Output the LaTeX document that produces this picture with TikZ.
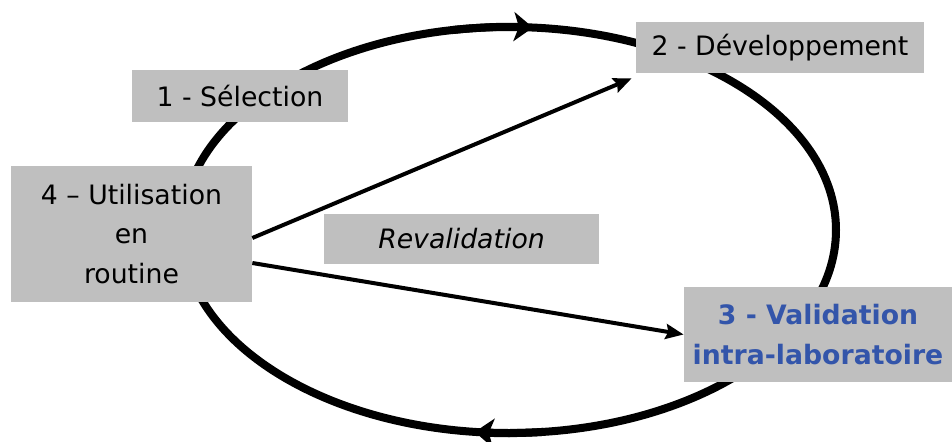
\documentclass[tikz,border=0pt]{standalone}
\usepackage{fontspec}
\setmainfont{DejaVu Sans}
\usetikzlibrary{arrows.meta}
\definecolor{grisboite}{RGB}{191,191,191}
\definecolor{bleuval}{RGB}{51,85,170}
\begin{document}
\begin{tikzpicture}[
            etape/.style={fill=grisboite,inner sep=0pt,align=center,
                font=\fontsize{15.2}{22.7}\selectfont},
            fleche/.style={line width=.08cm,
                -{Stealth[length=.36cm,width=.3cm,inset=.05cm]}}]
            \useasboundingbox (0,0) rectangle (19.04,8.82);
            \coordinate (O) at (10.18,4.22); % centre du cycle
            \draw[line width=.16cm] (O) ellipse[x radius=6.54,y radius=4.06];
            \begin{scope}[line width=.16cm,
                -{Stealth[length=.38cm,width=.58cm,inset=.1cm]}]
                \draw ([shift={(100:6.54 and 4.06)}]O)
                arc[start angle=100,end angle=85.8,x radius=6.54,y radius=4.06];
                \draw ([shift={(276:6.54 and 4.06)}]O)
                arc[start angle=276,end angle=264,x radius=6.54,y radius=4.06];
            \end{scope}
            \path
            (4.80,6.90) node[etape,minimum width=4.32cm,minimum height=1.04cm]
            (sel) {1 - Sélection} % <<< étape 1
            (15.60,7.87) node[etape,minimum width=5.76cm,minimum height=1.02cm]
            (dev) {2 - Développement} % <<< étape 2
            (16.36,2.13) node[etape,minimum width=5.36cm,minimum height=1.9cm,
            text=bleuval,font=\fontsize{15.2}{22.7}\selectfont\bfseries]
            (val) {3 - Validation\\intra-laboratoire} % <<< étape 3
            (2.63,4.14) node[etape,minimum width=4.82cm,minimum height=2.72cm]
            (util) {4 – Utilisation\\en\\routine} % <<< étape 4
            (9.23,4.04) node[etape,minimum width=5.5cm,minimum height=1cm]
            (reval) {\itshape Revalidation};
            \begin{scope}[fleche]
                \draw ([yshift=-.08cm]util.east)--([shift={(-.08cm,-.1cm)}]dev.south west);
                \draw ([yshift=-.58cm]util.east)--(val.west);
            \end{scope}
        \end{tikzpicture}
\end{document}
